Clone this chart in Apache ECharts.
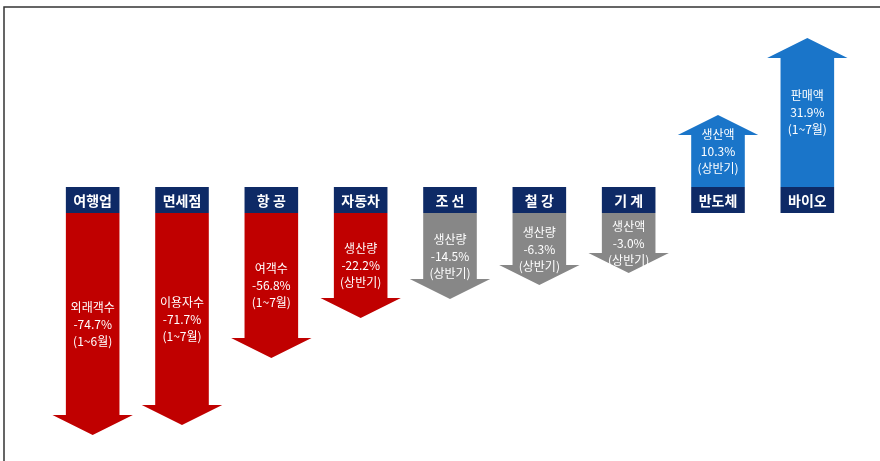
<!DOCTYPE html>
<html>
<head>
<meta charset="utf-8">
<script src="https://cdn.jsdelivr.net/npm/echarts@6/dist/echarts.min.js"></script>
<style>
  html, body { margin: 0; padding: 0; background: #fff; }
  #chart { width: 880px; height: 461px; }
</style>
</head>
<body>
<div id="chart"></div>
<script>
// industries and their headline change
const categories = ['여행업', '면세점', '항 공', '자동차', '조 선', '철 강', '기 계', '반도체', '바이오'];
const metrics = ['외래객수', '이용자수', '여객수', '생산량', '생산량', '생산량', '생산액', '생산액', '판매액'];
const changes = [-74.7, -71.7, -56.8, -22.2, -14.5, -6.3, -3.0, 10.3, 31.9];
const periods = ['(1~6월)', '(1~7월)', '(1~7월)', '(상반기)', '(상반기)', '(상반기)', '(상반기)', '(상반기)', '(1~7월)'];
// drawn arrow length (not proportional to the change)
const arrowLength = [-235, -225, -158, -118, -99, -85, -73, 85, 162];

const RED = '#c00000';
const GRAY = '#878787';
const BLUE = '#1a75c9';
const NAVY = '#0e2a66';

function arrowColor(v) {
    if (v > 0) return BLUE;
    if (v <= -20) return RED;
    return GRAY;
}

function renderArrow(params, api) {
    const idx = api.value(0);
    const len = api.value(1);
    const base = api.coord([idx, 0]);
    const tip = api.coord([idx, len]);
    const band = api.size([1, 0])[0];
    const cx = base[0];
    const sw = band * 0.6;
    const hw = band * 0.9;
    const headH = 20;
    const boxH = 26;
    const dir = len < 0 ? 1 : -1;
    const start = base[1] + dir * boxH / 2;
    const headBase = tip[1] - dir * headH;
    const change = changes[idx];

    return {
        type: 'group',
        children: [
            {
                type: 'polygon',
                shape: {
                    points: [
                        [cx - sw / 2, start], [cx - sw / 2, headBase], [cx - hw / 2, headBase],
                        [cx, tip[1]], [cx + hw / 2, headBase], [cx + sw / 2, headBase], [cx + sw / 2, start]
                    ]
                },
                style: { fill: arrowColor(change) }
            },
            {
                type: 'rect',
                shape: { x: cx - sw / 2, y: base[1] - boxH / 2, width: sw, height: boxH },
                style: { fill: NAVY }
            },
            {
                type: 'text',
                style: {
                    text: categories[idx],
                    x: cx, y: base[1] + 1,
                    align: 'center', verticalAlign: 'middle',
                    fill: '#fff', fontSize: 14, fontWeight: 'bold',
                    fontFamily: '"Noto Sans CJK KR", sans-serif'
                }
            },
            {
                type: 'text',
                style: {
                    text: metrics[idx] + '\n' + change.toFixed(1) + '%\n' + periods[idx],
                    x: cx, y: (start + tip[1]) / 2,
                    align: 'center', verticalAlign: 'middle',
                    fill: '#fff', fontSize: 12, lineHeight: 17,
                    fontFamily: '"Noto Sans CJK KR", sans-serif'
                }
            }
        ]
    };
}

const chart = echarts.init(document.getElementById('chart'));
chart.setOption({
    animation: false,
    grid: { left: 48, right: 28, top: 0, bottom: 0 },
    xAxis: { type: 'category', data: categories, show: false },
    yAxis: { type: 'value', min: -261, max: 200, show: false },
    graphic: [
        { type: 'polyline', shape: { points: [[4, 461], [4, 7], [880, 7]] }, style: { stroke: '#333', lineWidth: 1.5, fill: null } }
    ],
    series: [{
        type: 'custom',
        renderItem: renderArrow,
        clip: false,
        data: arrowLength.map((v, i) => [i, v])
    }]
});
</script>
</body>
</html>
